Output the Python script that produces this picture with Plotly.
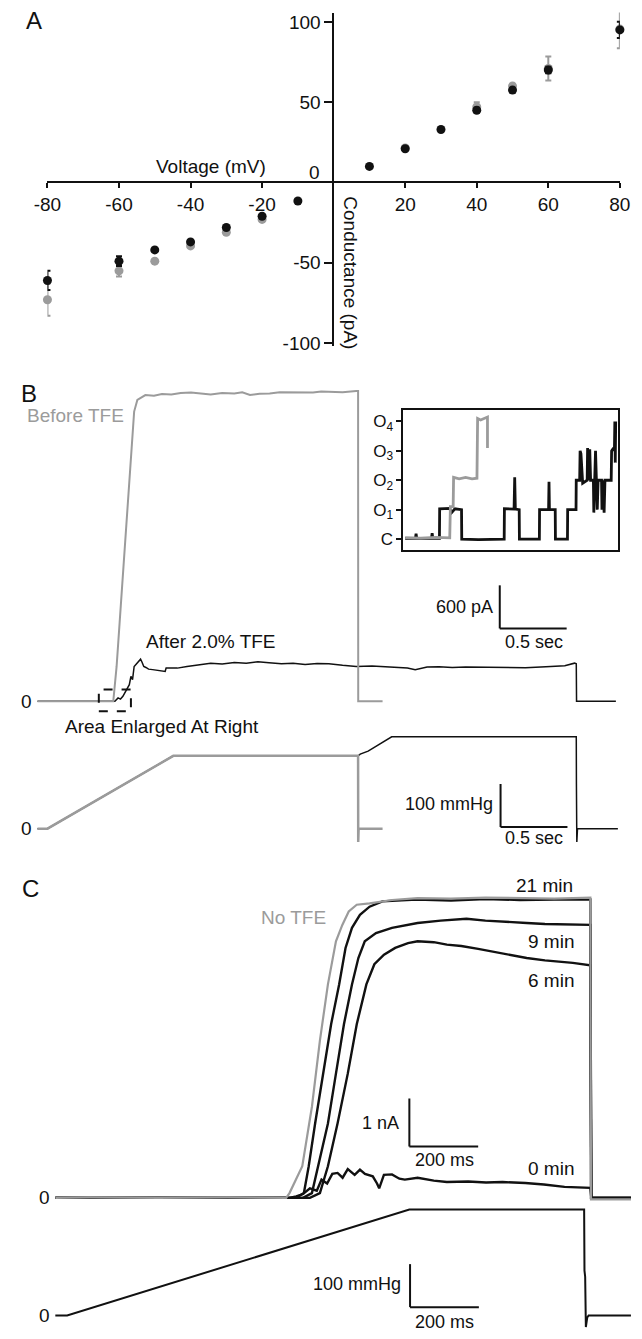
import plotly.graph_objects as go

W, H = 642, 1339
FONT = "Liberation Sans, Arial, sans-serif"
GRAY = "#9b9b9b"
BLACK = "#111111"

# ---------------- Panel A : I-V relation ----------------
volt_black = [-80, -60, -50, -40, -30, -20, -10, 10, 20, 30, 40, 50, 60, 80]
cond_black = [-61, -49, -42, -37, -28, -21, -11.5, 10, 21, 33, 45, 57.5, 70, 95]
err_black = [6, 3, 1, 1, 1, 1, 1, 1, 1, 1, 1.5, 1.5, 2, 5]
volt_gray = [-80, -60, -50, -40, -30, -20, 20, 40, 50, 60, 80]
cond_gray = [-73, -55, -49, -39.5, -31, -23, 21.5, 47, 60, 71, 95.5]
err_gray = [10, 3.6, 1, 1, 1, 1, 1, 3, 1.5, 7.5, 12]
a_xticks = [-80, -60, -40, -20, 20, 40, 60, 80]
a_yticks = [-100, -50, 50, 100]

# ---------------- Panel B : currents (s, pA) ----------------
b_before_t = [0, 0.566, 0.591, 0.638, 0.686, 0.722, 0.746, 0.806, 0.87, 0.93, 1.0, 1.07,
              1.147, 1.22, 1.294, 1.38, 1.471, 1.53, 1.588, 1.66, 1.735, 1.81, 1.882, 1.97,
              2.059, 2.12, 2.177, 2.28, 2.382, 2.396, 2.397, 2.579]
b_before_pA = [0, 0, 484, 1728, 3110, 4031, 4192, 4261, 4250, 4275, 4270, 4290,
               4298, 4280, 4270, 4290, 4284, 4300, 4261, 4280, 4284, 4300, 4298, 4290,
               4296, 4310, 4307, 4300, 4316, 4316, 0, 0]
b_after_t = [0, 0.578, 0.602, 0.62, 0.638, 0.662, 0.686, 0.698, 0.71, 0.722, 0.746, 0.770,
             0.782, 0.794, 0.81, 0.830, 0.86, 0.902, 0.954, 0.961, 1.045, 1.117, 1.189, 1.294,
             1.38, 1.471, 1.56, 1.647, 1.73, 1.823, 1.91, 2.000, 2.09, 2.177, 2.28, 2.382,
             2.5, 2.62, 2.70, 2.765, 2.823, 2.912, 3.0, 3.1, 3.2, 3.353, 3.5, 3.647, 3.8,
             3.941, 4.014, 4.027, 4.029, 4.323]
b_after_pA = [0, 0, 46, 30, 69, 161, 230, 345, 300, 484, 530, 585,
              540, 484, 470, 447, 440, 428, 415, 461, 461, 484, 507, 530,
              520, 539, 530, 548, 535, 521, 530, 511, 525, 521, 500, 484,
              490, 480, 470, 461, 438, 475, 480, 470, 478, 475, 470, 465, 480,
              493, 530, 520, 0, 0]
# enlarged area (dashed box) in s / pA
box_t = [0.458, 0.698]
box_pA = [-138, 162]

# ---------------- Panel B : pressure (s, mmHg) ----------------
bp_gray_t = [0, 0.074, 1.015, 2.396, 2.397, 2.40, 2.579]
bp_gray_mmHg = [0, 0, 169, 169, -31, 0, 0]
bp_black_t = [0, 0.074, 1.015, 2.397, 2.412, 2.471, 2.647, 4.027, 4.028, 4.031, 4.036, 4.338]
bp_black_mmHg = [0, 0, 169, 169, 173, 180, 213, 213, 104, -31, 0, 0]

# ---------------- Panel B inset : channel levels ----------------
ins_black_u = [0.8, 5.6, 5.9, 6.2, 13.1, 13.4, 13.7, 16.8, 16.9, 20, 21.5, 22.5, 24, 27.1, 27.2,
               35, 47.0, 47.1, 51.6, 51.9, 52.2, 54.0, 54.1, 63.4, 63.5, 67.7, 67.9, 68.1, 70.8,
               70.9, 76.5, 76.6, 80.5, 80.6, 82.2, 82.4, 82.8, 83.6, 85.7, 85.9, 86.3, 86.9, 87.3,
               88.6, 88.8, 89.2, 89.6, 90.0, 90.4, 90.8, 92.4, 92.6, 93.0, 93.6, 94.0, 96.9, 97.1,
               98.0, 98.4, 98.6, 98.8, 99.0]
ins_black_lvl = [0.02, 0.02, 0.18, 0.02, 0.02, 0.2, 0.02, 0.02, 1.03, 1.02, 1.04, 0.9, 1.03, 1.0, 0.0,
                 -0.02, 0.0, 1.03, 1.02, 2.1, 1.02, 1.0, 0.0, 0.0, 1.0, 1.0, 1.95, 1.0, 1.0,
                 0.0, 0.0, 1.0, 1.0, 2.0, 2.0, 3.0, 2.9, 1.9, 2.0, 3.1, 2.0, 3.05, 2.0,
                 2.0, 0.9, 2.0, 3.0, 2.0, 1.0, 2.0, 2.0, 1.0, 2.0, 0.9, 2.0, 2.0, 3.0,
                 3.1, 3.0, 4.0, 2.6, 4.0]
ins_gray_u = [0.8, 8, 15, 21.6, 21.9, 23.2, 23.4, 26, 29, 32, 34.3, 34.6, 36, 37.5, 38.8, 39.2, 39.2]
ins_gray_lvl = [0.05, 0.03, 0.06, 0.04, 1.1, 1.1, 2.1, 2.05, 2.1, 2.05, 2.07, 4.1, 4.05, 4.1, 4.12, 4.15, 3.1]
ins_levels = [0, 1, 2, 3, 4]
ins_labels = ["C", "O<sub>1</sub>", "O<sub>2</sub>", "O<sub>3</sub>", "O<sub>4</sub>"]

# ---------------- Panel C : currents (ms, nA) ----------------
c_notfe_t = [0, 100, 300, 500, 671, 680.6, 717.8, 745.8, 769.0, 792.3, 815.6, 834.2, 852.8,
             876.1, 913.4, 978.5, 1053, 1150, 1250, 1350, 1450, 1555, 1557, 1673]
c_notfe_nA = [0, 0.01, 0.0, 0.01, 0.0, 0.10, 0.66, 1.90, 3.28, 4.45, 5.35, 5.69, 5.97,
              6.11, 6.14, 6.21, 6.25, 6.24, 6.26, 6.25, 6.24, 6.26, -0.03, -0.03]
c_21_t = [0, 700, 722.5, 736.5, 755.1, 778.4, 801.6, 824.9, 843.5, 862.2, 885.4, 913.4, 950.6,
          1050, 1150, 1250, 1350, 1450, 1555, 1557, 1673]
c_21_nA = [0, 0, 0.10, 0.66, 1.55, 2.59, 3.62, 4.45, 5.21, 5.63, 5.90, 6.07, 6.18,
           6.22, 6.20, 6.23, 6.21, 6.22, 6.22, 0, 0]
c_9_t = [0, 720, 745.8, 764.4, 792.3, 815.6, 838.9, 862.2, 880.8, 899.4, 932.0, 978.5, 1053,
         1120, 1195, 1250, 1309, 1370, 1423, 1490, 1555, 1558, 1673]
c_9_nA = [0, 0, 0.10, 0.66, 1.55, 2.59, 3.62, 4.45, 5.00, 5.35, 5.52, 5.63, 5.73,
          5.78, 5.82, 5.78, 5.75, 5.73, 5.71, 5.70, 5.69, 0, 0]
c_6_t = [0, 740, 769.0, 792.3, 820.3, 850.0, 876.1, 904.1, 927.3, 955.3, 987.8, 1025.1, 1053,
         1100, 1138, 1180, 1229, 1280, 1321, 1370, 1423, 1470, 1504, 1555, 1558, 1673]
c_6_nA = [0, 0, 0.10, 0.66, 1.55, 2.59, 3.62, 4.45, 4.87, 5.07, 5.21, 5.31, 5.35,
          5.33, 5.28, 5.25, 5.19, 5.12, 5.06, 5.0, 4.95, 4.92, 4.90, 4.85, 0, 0]
c_0_t = [0, 680, 700, 720, 740, 760, 773.7, 790, 805, 820.3, 835, 850, 870, 885.4, 900, 922.7,
         935, 941.3, 955, 978.5, 1000, 1015.8, 1053, 1100, 1138, 1200, 1252, 1300, 1366, 1420,
         1480, 1520, 1555, 1558, 1673]
c_0_nA = [0, 0, 0.03, 0.08, 0.2, 0.15, 0.38, 0.3, 0.5, 0.52, 0.42, 0.6, 0.48, 0.59, 0.5, 0.45,
          0.3, 0.2, 0.48, 0.49, 0.4, 0.38, 0.42, 0.36, 0.33, 0.34, 0.32, 0.33, 0.31, 0.28,
          0.23, 0.22, 0.21, 0, 0]

# ---------------- Panel C : pressure (ms, mmHg) ----------------
cp_t = [0, 34.4, 1029, 1537, 1538, 1540, 1542, 1546, 1550, 1673]
cp_mmHg = [0, 0, 246, 246, 104, 90, -27, -5, 0, 0]

# ---------------- scale bars ----------------
sb_b_cur = dict(t0=3.455, v0=1013, dt=0.5, dv=600)
sb_b_pres = dict(t0=3.461, v0=3.7, dt=0.5, dv=100)
sb_c_cur = dict(t0=1029, v0=1.07, dt=200, dv=1)
sb_c_pres = dict(t0=1031, v0=19.2, dt=200, dv=100)


def px(X):
    return X / W


def py(Y):
    return 1 - Y / H


fig = go.Figure()

# Panel A
fig.add_trace(go.Scatter(x=volt_gray, y=cond_gray, mode="markers", xaxis="x", yaxis="y",
                         marker=dict(color=GRAY, size=9),
                         error_y=dict(type="data", array=err_gray, color=GRAY, thickness=2, width=3),
                         cliponaxis=False, showlegend=False))
fig.add_trace(go.Scatter(x=volt_black, y=cond_black, mode="markers", xaxis="x", yaxis="y",
                         marker=dict(color=BLACK, size=9),
                         error_y=dict(type="data", array=err_black, color=BLACK, thickness=2, width=3),
                         cliponaxis=False, showlegend=False))

# Panel B currents
fig.add_trace(go.Scatter(x=b_after_t, y=b_after_pA, mode="lines", xaxis="x2", yaxis="y2",
                         line=dict(color=BLACK, width=1.5), showlegend=False))
fig.add_trace(go.Scatter(x=b_before_t, y=b_before_pA, mode="lines", xaxis="x2", yaxis="y2",
                         line=dict(color=GRAY, width=2), showlegend=False))
# Panel B pressure
fig.add_trace(go.Scatter(x=bp_black_t, y=bp_black_mmHg, mode="lines", xaxis="x2", yaxis="y4",
                         line=dict(color=BLACK, width=1.5), showlegend=False))
fig.add_trace(go.Scatter(x=bp_gray_t, y=bp_gray_mmHg, mode="lines", xaxis="x2", yaxis="y4",
                         line=dict(color=GRAY, width=2.5), showlegend=False))
# Inset
fig.add_trace(go.Scatter(x=ins_black_u, y=ins_black_lvl, mode="lines", xaxis="x3", yaxis="y3",
                         line=dict(color=BLACK, width=2.8), showlegend=False))
fig.add_trace(go.Scatter(x=ins_gray_u, y=ins_gray_lvl, mode="lines", xaxis="x3", yaxis="y3",
                         line=dict(color=GRAY, width=2.8), showlegend=False))

# Panel C currents
for tt, vv in [(c_0_t, c_0_nA), (c_6_t, c_6_nA), (c_9_t, c_9_nA), (c_21_t, c_21_nA)]:
    fig.add_trace(go.Scatter(x=tt, y=vv, mode="lines", xaxis="x4", yaxis="y5",
                             line=dict(color=BLACK, width=2.4), showlegend=False))
fig.add_trace(go.Scatter(x=c_notfe_t, y=c_notfe_nA, mode="lines", xaxis="x4", yaxis="y5",
                         line=dict(color=GRAY, width=2.2), showlegend=False))
# Panel C pressure
fig.add_trace(go.Scatter(x=cp_t, y=cp_mmHg, mode="lines", xaxis="x4", yaxis="y6",
                         line=dict(color=BLACK, width=2), showlegend=False))

# shapes: scale bars and dashed box
shapes = []


def scalebar(sb, xref, yref):
    return [
        dict(type="line", xref=xref, yref=yref, x0=sb["t0"], x1=sb["t0"],
             y0=sb["v0"], y1=sb["v0"] + sb["dv"], line=dict(color=BLACK, width=2)),
        dict(type="line", xref=xref, yref=yref, x0=sb["t0"], x1=sb["t0"] + sb["dt"],
             y0=sb["v0"], y1=sb["v0"], line=dict(color=BLACK, width=2)),
    ]


shapes += scalebar(sb_b_cur, "x2", "y2")
shapes += scalebar(sb_b_pres, "x2", "y4")
shapes += scalebar(sb_c_cur, "x4", "y5")
shapes += scalebar(sb_c_pres, "x4", "y6")
shapes.append(dict(type="rect", xref="x2", yref="y2", x0=box_t[0], x1=box_t[1],
                   y0=box_pA[0], y1=box_pA[1], line=dict(color=BLACK, width=2, dash="dash")))

# annotations
anns = []


def ann(text, X, Y, size=19, color=BLACK, xanchor="center", angle=0):
    anns.append(dict(text=text, x=px(X), y=py(Y), xref="paper", yref="paper",
                     xanchor=xanchor, yanchor="middle", showarrow=False, textangle=angle,
                     font=dict(family=FONT, size=size, color=color)))


ann("A", 21, 20, 24)
ann("Voltage (mV)", 204.7, 166.7)
ann("0", 313, 173)
ann("Conductance (pA)", 350, 273.5, angle=90)
ann("B", 16, 395, 24)
ann("Before TFE", 63.5, 417, color=GRAY)
ann("After 2.0% TFE", 204.7, 645)
ann("Area Enlarged At Right", 154.5, 730)
ann("0", 13, 705)
ann("0", 13, 833)
ann("600 pA", 500, 610, 18, xanchor="right")
ann("0.5 sec", 541.5, 645, 18)
ann("100 mmHg", 500, 808, 18, xanchor="right")
ann("0.5 sec", 541, 843, 18)
ann("C", 17, 894, 24)
ann("No TFE", 290.7, 922.7, color=GRAY)
ann("21 min", 551.7, 890)
ann("9 min", 558.3, 946.7)
ann("6 min", 558.3, 986)
ann("0 min", 558.7, 1175)
ann("1 nA", 403, 1130, 18, xanchor="right")
ann("200 ms", 448.2, 1166.7, 18)
ann("100 mmHg", 405.2, 1291.7, 18, xanchor="right")
ann("200 ms", 448.2, 1330, 18)
ann("0", 31.7, 1205)
ann("0", 31.7, 1323.3)

hidden = dict(visible=False, showgrid=False, zeroline=False)

fig.update_layout(
    width=W, height=H, margin=dict(l=0, r=0, t=0, b=0),
    paper_bgcolor="white", plot_bgcolor="rgba(0,0,0,0)",
    font=dict(family=FONT, size=19, color=BLACK),
    showlegend=False,
    xaxis=dict(domain=[px(34.8), px(630.4)], range=[-80, 80], anchor="free", position=py(182.7),
               showline=True, linecolor=BLACK, linewidth=2, ticks="outside", ticklen=5,
               tickwidth=2, tickcolor=BLACK, tickvals=a_xticks, ticktext=[str(v) for v in a_xticks],
               tickfont=dict(family=FONT, size=19, color=BLACK), showgrid=False, zeroline=False),
    yaxis=dict(domain=[py(347), py(11.7)], range=[-101.6, 105.75], anchor="free", position=px(332.4),
               showline=True, linecolor=BLACK, linewidth=2, ticks="outside", ticklen=8,
               tickwidth=2, tickcolor=BLACK, tickvals=a_yticks, ticktext=[str(v) for v in a_yticks],
               tickfont=dict(family=FONT, size=19, color=BLACK), showgrid=False, zeroline=False),
    xaxis2=dict(domain=[0, 1], range=[-0.176, 4.436], anchor="y2", **hidden),
    yaxis2=dict(domain=[py(740), py(380)], range=[-484, 4492], anchor="x2", **hidden),
    yaxis4=dict(domain=[py(860), py(730)], range=[-61.5, 238.0], anchor="x2", **hidden),
    xaxis3=dict(domain=[px(405.2), px(628.3)], range=[0, 100], anchor="y3",
                showline=True, mirror=True, linecolor=BLACK, linewidth=2, ticks="",
                showticklabels=False, showgrid=False, zeroline=False),
    yaxis3=dict(domain=[py(552.7), py(411.7)], range=[-0.372, 4.392], anchor="x3",
                showline=True, mirror=True, linecolor=BLACK, linewidth=2, ticks="outside",
                ticklen=5, tickwidth=2, tickcolor=BLACK, tickvals=ins_levels, ticktext=ins_labels,
                tickfont=dict(family=FONT, size=17, color=BLACK), showgrid=False, zeroline=False),
    xaxis4=dict(domain=[0, 1], range=[-120.1, 1673.2], anchor="y5", **hidden),
    yaxis5=dict(domain=[py(1230), py(870)], range=[-0.518, 6.936], anchor="x4", **hidden),
    yaxis6=dict(domain=[py(1339), py(1200)], range=[-36.3, 284.8], anchor="x4", **hidden),
    shapes=shapes,
    annotations=anns,
)

fig.write_html("out.html", config={"displayModeBar": False},
               post_script="document.body.style.margin='0';")
